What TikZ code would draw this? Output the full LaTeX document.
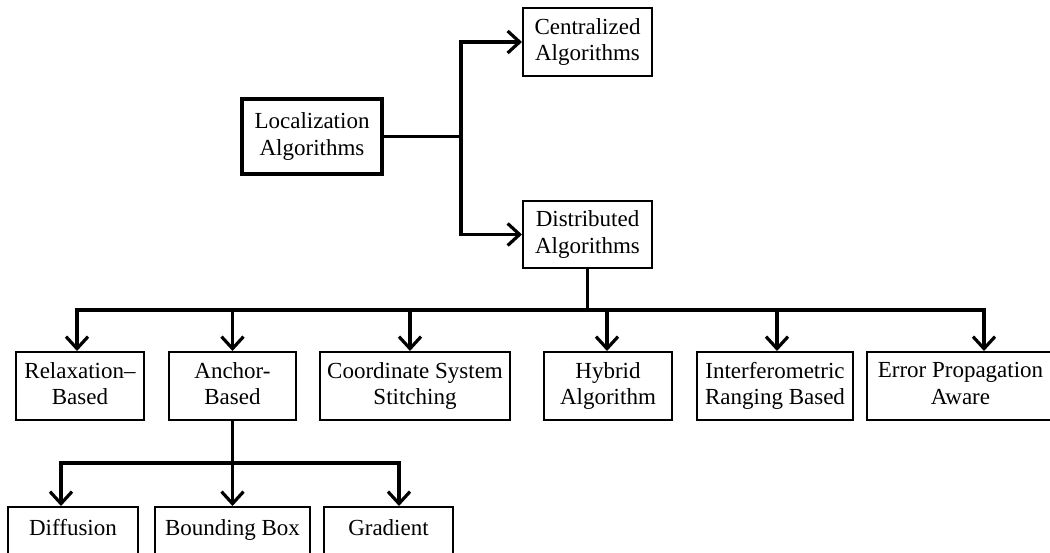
\documentclass[tikz,border=0pt]{standalone}
\usepackage{fontspec}
\setmainfont{Liberation Serif}
\usetikzlibrary{arrows.meta}
\begin{document}
\begin{tikzpicture}[x=1pt,y=-1pt,
  box/.style={draw, line width=2pt, inner sep=0pt, align=center,
    font=\fontsize{23}{26.5}\selectfont},
  mainbox/.style={box, line width=4pt},
  conn/.style={line width=3.2pt, line join=miter},
  arr/.style={conn, -{Straight Barb[length=12pt,width=22pt]}}]
\clip (0,0) rectangle (1050,553);
\fill[white] (0,0) rectangle (1050,553);
% top level
\node[mainbox, minimum width=140, minimum height=75] (loc) at (312,136.5) {Localization\\Algorithms};
\node[box, minimum width=129, minimum height=68] (cen) at (587.5,42) {Centralized\\Algorithms};
\node[box, minimum width=129, minimum height=67] (dis) at (587.5,234.5) {Distributed\\Algorithms};
% second level
\node[box, minimum width=128, minimum height=68] (rel) at (80,386) {Relaxation–\\Based\vphantom{g}};
\node[box, minimum width=127, minimum height=68] (anc) at (232.5,386) {Anchor-\\Based\vphantom{g}};
\node[box, minimum width=190, minimum height=68] (coo) at (415,386) {Coordinate System\\Stitching};
\node[box, minimum width=128, minimum height=68] (hyb) at (608,386) {Hybrid\\Algorithm};
\node[box, minimum width=156, minimum height=68] (int) at (775,386) {Interferometric\\Ranging Based};
\node[box, minimum width=187, minimum height=68] (err) at (960.5,386) {Error Propagation\\Aware\vphantom{g}};
% third level
\node[box, minimum width=130, minimum height=68] (dif) at (73,541) {Diffusion\\\mbox{}};
\node[box, minimum width=155, minimum height=68] (bou) at (232.5,541) {Bounding Box\\\mbox{}};
\node[box, minimum width=129, minimum height=68] (gra) at (388.5,541) {Gradient\\\mbox{}};
% connectors
\coordinate (j) at (461,136.5);
\draw[arr] (loc.east) -- (j) |- (cen.west);
\draw[arr] (j) |- (dis.west);
\coordinate (busL) at (77,310);
\coordinate (busR) at (984,310);
\draw[arr] (dis.south) |- (busL) -- ([xshift=-3]rel.north);
\draw[arr] (dis.south) |- (busR) -- ([xshift=23.5]err.north);
\draw[arr] (anc.north |- busL) -- (anc.north);
\draw[arr] ([xshift=-5]coo.north |- busL) -- ([xshift=-5]coo.north);
\draw[arr] ([xshift=-1]hyb.north |- busL) -- ([xshift=-1]hyb.north);
\draw[arr] ([xshift=2]int.north |- busL) -- ([xshift=2]int.north);
\coordinate (sub) at (232.5,463);
\draw[arr] (anc.south) -- (sub) -| ([xshift=-12]dif.north);
\draw[arr] (sub) -| ([xshift=10.5]gra.north);
\draw[arr] (anc.south) -- (bou.north);
\end{tikzpicture}
\end{document}
